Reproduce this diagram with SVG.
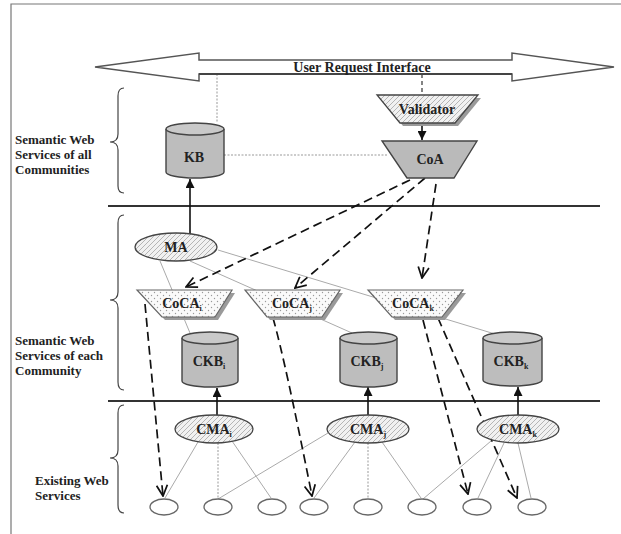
<svg xmlns="http://www.w3.org/2000/svg" width="621" height="534" viewBox="0 0 621 534">
<style>
text{font-family:"Liberation Serif","Times New Roman",serif;font-weight:bold;fill:#222}
.lbl{font-size:13px}
.nd{font-size:14px;text-anchor:middle}
.frame{stroke:#777;stroke-width:1.2;fill:none}
.sep{stroke:#333;stroke-width:2;fill:none}
.brace{stroke:#444;stroke-width:1.2;fill:none}
.gl{stroke:#aaa;stroke-width:1;fill:none}
.gd{stroke:#999;stroke-width:1;stroke-dasharray:2 1.5;fill:none}
.dash{stroke:#111;stroke-width:1.7;stroke-dasharray:9 5;fill:none;marker-end:url(#vee)}
.solid{stroke:#111;stroke-width:1.6;fill:none;marker-end:url(#tri)}
.cyl{fill:#bdbdbd;stroke:#444;stroke-width:1.4}
.cyltop{fill:#c9c9c9;stroke:#444;stroke-width:1.4}
.shadow{fill:#9a9a9a}
.ell{fill:url(#hatch);stroke:#444;stroke-width:1.3}
.ws{fill:#fff;stroke:#666;stroke-width:1.3}
</style>
<defs>
<pattern id="hatch" patternUnits="userSpaceOnUse" width="5" height="5">
<rect width="5" height="5" fill="#f1f1f1"/>
<path d="M-1,6 L6,-1" stroke="#b5b5b5" stroke-width="1"/>
</pattern>
<pattern id="dots" patternUnits="userSpaceOnUse" width="6" height="6">
<rect width="6" height="6" fill="#fafafa"/>
<circle cx="1.5" cy="1.5" r="0.7" fill="#9a9a9a"/>
<circle cx="4.5" cy="4.5" r="0.7" fill="#9a9a9a"/>
</pattern>
<marker id="tri" viewBox="0 0 10 10" refX="10" refY="5" markerWidth="9" markerHeight="9" markerUnits="userSpaceOnUse" orient="auto">
<path d="M0,0 L10,5 L0,10 z" fill="#111"/>
</marker>
<marker id="vee" viewBox="0 0 12 12" refX="11" refY="6" markerWidth="13" markerHeight="13" markerUnits="userSpaceOnUse" orient="auto">
<path d="M1,1 L11,6 L1,11" fill="none" stroke="#111" stroke-width="1.6" stroke-dasharray="none"/>
</marker>
</defs>
<rect width="621" height="534" fill="#fff"/>
<path class="frame" d="M11,534 L11,4 L621,4"/>

<g id="layout">
<line class="sep" x1="108" y1="206" x2="600" y2="206"/>
<line class="sep" x1="108" y1="401" x2="600" y2="401"/>
<path class="brace" d="M124,88 Q118,88 118,96 L118,134 Q118,142 110,142 Q118,142 118,150 L118,186 Q118,193 124,193"/>
<path class="brace" d="M124,215 Q118,215 118,223 L118,292 Q118,300 110,300 Q118,300 118,308 L118,382 Q118,390 124,390"/>
<path class="brace" d="M124,405 Q118,405 118,413 L118,450 Q118,458 110,458 Q118,458 118,466 L118,505 Q118,513 124,513"/>
<text class="lbl" x="15" y="144">Semantic Web</text>
<text class="lbl" x="15" y="159">Services of all</text>
<text class="lbl" x="15" y="174">Communities</text>
<text class="lbl" x="15" y="345">Semantic Web</text>
<text class="lbl" x="15" y="360">Services of each</text>
<text class="lbl" x="15" y="375">Community</text>
<text class="lbl" x="35" y="485">Existing Web</text>
<text class="lbl" x="35" y="500">Services</text>
</g>

<g id="connectors">
<line class="gd" x1="217" y1="74" x2="217" y2="122"/>
<line class="gd" x1="224" y1="155" x2="388" y2="155"/>
<line x1="422" y1="74" x2="422" y2="95" stroke="#333" stroke-width="1.2" stroke-dasharray="4 3"/>
<line class="gl" x1="160" y1="261" x2="190" y2="333"/>
<line class="gl" x1="190" y1="261" x2="352" y2="333"/>
<line class="gl" x1="218" y1="250" x2="495" y2="334"/>
<line class="gl" x1="198" y1="442" x2="165" y2="498"/>
<line class="gd" x1="218" y1="443" x2="218" y2="498"/>
<line class="gl" x1="232" y1="441" x2="271" y2="498"/>
<line class="gl" x1="328" y1="433" x2="218" y2="499"/>
<line class="gl" x1="355" y1="442" x2="314" y2="498"/>
<line class="gd" x1="368" y1="443" x2="368" y2="498"/>
<line class="gl" x1="382" y1="442" x2="421" y2="498"/>
<line class="gl" x1="491" y1="441" x2="423" y2="499"/>
<line class="gl" x1="504" y1="443" x2="478" y2="498"/>
<line class="gl" x1="518" y1="443" x2="531" y2="498"/>
<line class="solid" x1="422" y1="123" x2="422" y2="140"/>
<line class="solid" x1="190" y1="234" x2="190" y2="179"/>
<line class="solid" x1="217" y1="415" x2="217" y2="388"/>
<line class="solid" x1="368" y1="415" x2="368" y2="387"/>
<line class="solid" x1="518" y1="415" x2="518" y2="387"/>
<line class="dash" x1="410" y1="180" x2="186" y2="287"/>
<line class="dash" x1="425" y1="178" x2="295" y2="288"/>
<line class="dash" x1="436" y1="184" x2="422" y2="278"/>
<path class="dash" d="M145,304 L163,496"/>
<path class="dash" d="M273,318 Q285,360 312,496"/>
<path class="dash" d="M423,320 L468,494"/>
<path class="dash" d="M438,318 L517,498"/>
</g>

<g id="uri">
<polygon points="95,67 199,53 199,60 512,60 512,53 614,67 512,81 512,74 199,74 199,81" fill="#fff" stroke="#555" stroke-width="1.5"/>
<line x1="199" y1="74" x2="512" y2="74" stroke="#444" stroke-width="2"/>
<text class="nd" x="362" y="72" font-size="13">User Request Interface</text>
</g>

<g id="validator">
<polygon class="shadow" points="380,98 481,98 458,126 403,126"/>
<polygon points="377,95 478,95 455,123 400,123" fill="url(#hatch)" stroke="#444" stroke-width="1.3"/>
<text class="nd" x="427" y="114">Validator</text>
</g>

<g id="coa">
<polygon points="382,141 477,141 454,178 407,178" fill="#bababa" stroke="#444" stroke-width="1.4"/>
<text class="nd" x="430" y="164">CoA</text>
</g>

<g id="kb">
<path class="cyl" d="M166,129 L166,172 A29,6 0 0 0 224,172 L224,129"/>
<ellipse class="cyltop" cx="195" cy="129" rx="29" ry="6"/>
<text class="nd" x="194" y="162">KB</text>
</g>

<g id="ma">
<ellipse class="ell" cx="176" cy="247" rx="41" ry="14"/>
<text class="nd" x="176" y="252">MA</text>
</g>

<g id="coca-i">
<polygon class="shadow" points="140,293 235,293 218,320 165,320"/>
<polygon points="137,290 232,290 215,317 162,317" fill="url(#dots)" stroke="#666" stroke-width="1.2"/>
<text class="nd" x="182" y="308">CoCA<tspan font-size="8" dy="3">i</tspan></text>
</g>

<g id="coca-j">
<polygon class="shadow" points="248,293 343,293 325,320 270,320"/>
<polygon points="245,290 340,290 322,317 267,317" fill="url(#dots)" stroke="#666" stroke-width="1.2"/>
<text class="nd" x="292" y="308">CoCA<tspan font-size="8" dy="3">j</tspan></text>
</g>

<g id="coca-k">
<polygon class="shadow" points="371,293 466,293 445,320 395,320"/>
<polygon points="368,290 463,290 442,317 392,317" fill="url(#dots)" stroke="#666" stroke-width="1.2"/>
<text class="nd" x="413" y="308">CoCA<tspan font-size="8" dy="3">k</tspan></text>
</g>

<g id="ckb-i">
<path class="cyl" d="M182,338 L182,381 A28,6 0 0 0 238,381 L238,338"/>
<ellipse class="cyltop" cx="210" cy="338" rx="28" ry="6"/>
<text class="nd" x="209" y="366">CKB<tspan font-size="8" dy="3">i</tspan></text>
</g>

<g id="ckb-j">
<path class="cyl" d="M340,338 L340,381 A28.5,6 0 0 0 397,381 L397,338"/>
<ellipse class="cyltop" cx="368.5" cy="338" rx="28.5" ry="6"/>
<text class="nd" x="367" y="366">CKB<tspan font-size="8" dy="3">j</tspan></text>
</g>

<g id="ckb-k">
<path class="cyl" d="M483,338 L483,380 A29.5,6 0 0 0 542,380 L542,338"/>
<ellipse class="cyltop" cx="512.5" cy="338" rx="29.5" ry="6"/>
<text class="nd" x="511" y="366">CKB<tspan font-size="8" dy="3">k</tspan></text>
</g>

<g id="cma-i">
<ellipse class="ell" cx="214" cy="429" rx="39" ry="14"/>
<text class="nd" x="214" y="434">CMA<tspan font-size="8" dy="3">i</tspan></text>
</g>
<g id="cma-j">
<ellipse class="ell" cx="368" cy="429" rx="41" ry="14"/>
<text class="nd" x="368" y="434">CMA<tspan font-size="8" dy="3">j</tspan></text>
</g>
<g id="cma-k">
<ellipse class="ell" cx="518" cy="429" rx="41" ry="14"/>
<text class="nd" x="518" y="434">CMA<tspan font-size="8" dy="3">k</tspan></text>
</g>

<g id="ws1"><ellipse class="ws" cx="164" cy="507" rx="14" ry="8"/></g>
<g id="ws2"><ellipse class="ws" cx="218" cy="507" rx="14" ry="8"/></g>
<g id="ws3"><ellipse class="ws" cx="272" cy="507" rx="14" ry="8"/></g>
<g id="ws4"><ellipse class="ws" cx="314" cy="507" rx="14" ry="8"/></g>
<g id="ws5"><ellipse class="ws" cx="368" cy="507" rx="14" ry="8"/></g>
<g id="ws6"><ellipse class="ws" cx="422" cy="507" rx="14" ry="8"/></g>
<g id="ws7"><ellipse class="ws" cx="477" cy="507" rx="14" ry="8"/></g>
<g id="ws8"><ellipse class="ws" cx="532" cy="507" rx="14" ry="8"/></g>
</svg>
